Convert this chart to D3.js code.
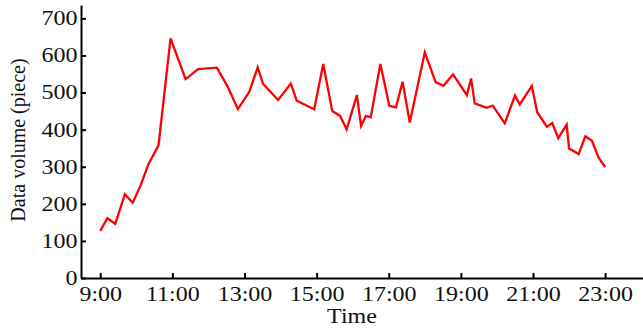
<!DOCTYPE html>
<html>
<head>
<meta charset="utf-8">
<script src="https://cdn.jsdelivr.net/npm/d3@7"></script>
<style>
  body { margin: 0; background: #fff; }
  svg { display: block; }
  svg text { font-family: "Liberation Serif", "Times New Roman", serif; }
</style>
</head>
<body>
<svg id="chart"></svg>
<script>
// sample times and data volume
const times = [
  "9:00", "9:12", "9:25", "9:41", "9:54", "10:07", "10:20", "10:37", "10:57", "11:22",
  "11:43", "12:14", "12:32", "12:49", "13:08", "13:22", "13:31", "13:56", "14:17", "14:27",
  "14:56", "15:11", "15:26", "15:39", "15:50", "16:07", "16:14", "16:22", "16:30", "16:46",
  "17:01", "17:12", "17:23", "17:35", "18:00", "18:18", "18:31", "18:47", "19:10", "19:17",
  "19:23", "19:43", "19:53", "20:13", "20:30", "20:38", "20:58", "21:07", "21:23", "21:32",
  "21:42", "21:56", "22:00", "22:16", "22:27", "22:38", "22:49", "23:00"
];
const volumes = [
  127, 161, 146, 226, 203, 249, 306, 358, 646, 536,
  563, 567, 516, 455, 502, 568, 523, 480, 524, 478,
  455, 577, 450, 437, 401, 493, 410, 437, 433, 577,
  464, 460, 529, 419, 608, 528, 518, 549, 493, 538,
  471, 459, 465, 417, 492, 468, 518, 447, 408, 418,
  377, 413, 349, 334, 382, 370, 325, 299
];
const xTicks = ["9:00", "11:00", "13:00", "15:00", "17:00", "19:00", "21:00", "23:00"];
const yTicks = [0, 100, 200, 300, 400, 500, 600, 700];

const width = 643, height = 329;
const stretch = 1.2; // figure text is widened horizontally

const parse = d3.timeParse("%H:%M");
const data = times.map((t, i) => ({ t: parse(t), v: volumes[i] }));

const svg = d3.select("#chart")
    .attr("width", width)
    .attr("height", height);

const x = d3.scaleTime()
    .domain([d3.timeMinute.offset(parse("9:00"), -32), d3.timeMinute.offset(parse("23:00"), 63)])
    .range([81, 643]);

const y = d3.scaleLinear()
    .domain([0, 736])
    .range([278, 5]);

// x axis
const gx = svg.append("g")
    .attr("transform", `translate(0,${y(0)})`)
    .call(d3.axisBottom(x)
        .tickValues(xTicks.map(parse))
        .tickFormat(d3.timeFormat("%-H:%M"))
        .tickSize(-5)
        .tickSizeOuter(0)
        .tickPadding(16));

// y axis
const gy = svg.append("g")
    .attr("transform", `translate(${x.range()[0]},0)`)
    .call(d3.axisLeft(y)
        .tickValues(yTicks)
        .tickSize(-5)
        .tickSizeOuter(0)
        .tickPadding(3));

[gx, gy].forEach(g => {
  g.attr("font-size", 20);
  g.select(".domain").attr("stroke", "#000").attr("stroke-width", 2);
  g.selectAll(".tick line").attr("stroke", "#000").attr("stroke-width", 2);
  g.selectAll(".tick text")
      .attr("fill", "#111")
      .attr("transform", `scale(${stretch},1)`);
});
gx.selectAll(".tick text").attr("dy", "0.35em");

svg.append("text")
    .attr("transform", `translate(352,323) scale(${stretch},1)`)
    .attr("text-anchor", "middle")
    .attr("font-size", 20)
    .attr("fill", "#111")
    .text("Time");

svg.append("text")
    .attr("transform", "translate(25,140) rotate(-90)")
    .attr("text-anchor", "middle")
    .attr("font-size", 20)
    .attr("fill", "#111")
    .text("Data volume (piece)");

svg.append("path")
    .datum(data)
    .attr("fill", "none")
    .attr("stroke", "#ff0000")
    .attr("stroke-width", 2.3)
    .attr("stroke-linejoin", "miter")
    .attr("d", d3.line().x(d => x(d.t)).y(d => y(d.v)));
</script>
</body>
</html>
